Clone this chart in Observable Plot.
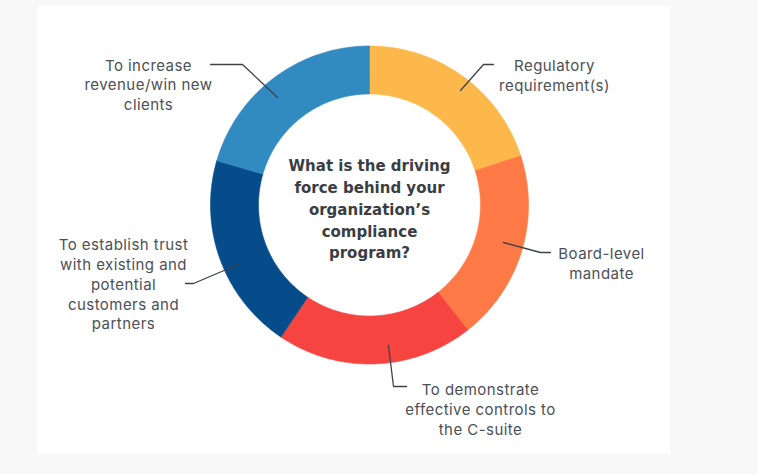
<!DOCTYPE html>
<html>
<head>
<meta charset="utf-8">
<script src="https://cdn.jsdelivr.net/npm/d3@7"></script>
<script src="https://cdn.jsdelivr.net/npm/@observablehq/plot@0.6"></script>
<style>
  html, body { margin: 0; padding: 0; background: #f8f8f8; }
  #wrap { position: relative; width: 758px; height: 474px; overflow: hidden; }
  #card { position: absolute; left: 37px; top: 6px; width: 633px; height: 448px; background: #ffffff; }
  #chart { position: absolute; left: 0; top: 0; }
  svg text { font-family: Inter, "Noto Sans", sans-serif; }
  svg g.lbl text { letter-spacing: 0.45px; }
  svg g.ctr text { font-family: "DejaVu Sans", sans-serif; }
</style>
</head>
<body>
<div id="wrap"><div id="card"></div><div id="chart"></div></div>
<script>
// ---- data ----
const categories = [
  "Regulatory requirement(s)",
  "Board-level mandate",
  "To demonstrate effective controls to the C-suite",
  "To establish trust with existing and potential customers and partners",
  "To increase revenue/win new clients"
];
const shares = [20.0, 19.4, 20.0, 20.1, 20.5];   // % of respondents (estimated)
const colors = ["#FDB84C", "#FD7A47", "#F64441", "#064C8B", "#318AC0"];
const labelLines = [
  "Regulatory\nrequirement(s)",
  "Board-level\nmandate",
  "To demonstrate\neffective controls to\nthe C-suite",
  "To establish trust\nwith existing and\npotential\ncustomers and\npartners",
  "To increase\nrevenue/win new\nclients"
];
const centerTitle = "What is the driving\nforce behind your\norganization\u2019s\ncompliance\nprogram?";

// ---- layout (annotation positions, pixels) ----
const W = 758, H = 474, cx = 369, cy = 204.5, R = 159, r0 = 111;
const labelPos = [[554, 74], [601, 262], [480, 408], [123, 283], [148, 83.5]];
const leaders = [
  [[460, 90], [483, 64], [493, 64]],
  [[503, 242], [540, 252], [550, 252]],
  [[388, 345], [393, 386], [406, 386]],
  [[240, 263], [193, 283], [185, 283]],
  [[277, 97], [242, 64], [210, 64]]
];

// ---- build slice polygons from the data ----
const pie = d3.pie().sort(null).value(d => d.v)(categories.map((c, i) => ({c, v: shares[i]})));
const polys = [];
pie.forEach(p => {
  const n = 80;
  const pts = [];
  for (let k = 0; k <= n; k++) {
    const a = p.startAngle + (p.endAngle - p.startAngle) * k / n;
    pts.push([cx + R * Math.sin(a), cy - R * Math.cos(a)]);
  }
  for (let k = n; k >= 0; k--) {
    const a = p.startAngle + (p.endAngle - p.startAngle) * k / n;
    pts.push([cx + r0 * Math.sin(a), cy - r0 * Math.cos(a)]);
  }
  pts.push(pts[0]);
  pts.forEach(([x, y]) => polys.push({key: p.data.c, x, y}));
});

const leaderRows = [];
leaders.forEach((pts, i) => pts.forEach(([x, y]) => leaderRows.push({key: categories[i], x, y})));
const labels = categories.map((c, i) => ({key: c, text: labelLines[i], x: labelPos[i][0], y: labelPos[i][1]}));

const chart = Plot.plot({
  width: W, height: H,
  margin: 0,
  x: {domain: [0, W], range: [0, W], axis: null},
  y: {domain: [0, H], range: [0, H], axis: null},
  color: {domain: categories, range: colors},
  style: {background: "transparent", overflow: "visible"},
  marks: [
    Plot.line(polys, {x: "x", y: "y", z: "key", fill: "key", stroke: "key", strokeWidth: 0.6, curve: "linear"}),
    Plot.line(leaderRows, {x: "x", y: "y", z: "key", stroke: "#3d4248", strokeWidth: 1.3}),
    Plot.text(labels, {x: "x", y: "y", text: "text", fill: "#4b5056", fontSize: 15, lineHeight: 1.32, textAnchor: "middle", lineAnchor: "middle", className: "lbl"}),
    Plot.text([centerTitle], {x: () => cx, y: () => cy + 3, text: d => d, fill: "#3a3d43", fontSize: 15, fontWeight: 700, lineHeight: 1.45, textAnchor: "middle", lineAnchor: "middle", className: "ctr"})
  ]
});
document.getElementById("chart").appendChild(chart);
</script>
</body>
</html>
